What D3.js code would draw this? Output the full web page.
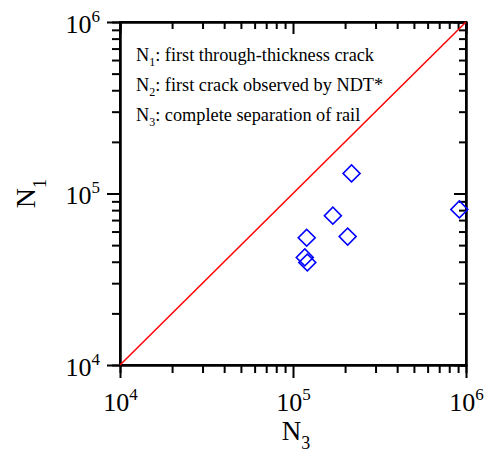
<!DOCTYPE html>
<html>
<head>
<meta charset="utf-8">
<script src="https://cdn.jsdelivr.net/npm/d3@7"></script>
<style>
  body { margin: 0; background: #fff; }
  svg text { font-family: "Liberation Serif", "Times New Roman", serif; fill: #000; }
  .axis path, .axis line { stroke: #000; stroke-width: 2; }
</style>
</head>
<body>
<svg id="chart" width="487" height="452"></svg>
<script>
// N3 (cycles to complete separation) vs N1 (first through-thickness crack)
const n3Values = [2.18e5, 1.70e5, 2.07e5, 1.20e5, 1.17e5, 1.21e5, 9.15e5];
const n1Values = [1.31e5, 7.42e4, 5.61e4, 5.52e4, 4.24e4, 3.96e4, 8.07e4];
const majorTicks = [1e4, 1e5, 1e6];
const tickExponents = ["4", "5", "6"];
const legendLines = [
    { sub: "1", text: ": first through-thickness crack" },
    { sub: "2", text: ": first crack observed by NDT*" },
    { sub: "3", text: ": complete separation of rail" }
];

const svg = d3.select("#chart");
const margin = { top: 22, right: 21, bottom: 87, left: 120 };
const width = +svg.attr("width") - margin.left - margin.right;
const height = +svg.attr("height") - margin.top - margin.bottom;

const x = d3.scaleLog().domain([1e4, 1e6]).range([0, width]);
const y = d3.scaleLog().domain([1e4, 1e6]).range([height, 0]);

const minorTicks = [];
[1e4, 1e5].forEach(d => { for (let k = 2; k <= 9; k++) minorTicks.push(d * k); });

const g = svg.append("g")
    .attr("transform", `translate(${margin.left},${margin.top})`);

// minor ticks
g.append("g").attr("class", "axis")
    .attr("transform", `translate(0,${height})`)
    .call(d3.axisBottom(x).tickValues(minorTicks).tickSize(8).tickFormat(""));
g.append("g").attr("class", "axis")
    .call(d3.axisLeft(y).tickValues(minorTicks).tickSize(8).tickFormat(""));
g.append("g").attr("class", "axis")
    .call(d3.axisBottom(x).tickValues(minorTicks).tickSize(7).tickFormat(""));
g.append("g").attr("class", "axis")
    .attr("transform", `translate(${width},0)`)
    .call(d3.axisLeft(y).tickValues(minorTicks).tickSize(7).tickFormat(""));

// major ticks
const xAxis = g.append("g").attr("class", "axis")
    .attr("transform", `translate(0,${height})`)
    .call(d3.axisBottom(x).tickValues(majorTicks).tickSize(13).tickSizeOuter(0).tickFormat(""));
const yAxis = g.append("g").attr("class", "axis")
    .call(d3.axisLeft(y).tickValues(majorTicks).tickSize(13).tickSizeOuter(0).tickFormat(""));
g.append("g").attr("class", "axis")
    .call(d3.axisBottom(x).tickValues(majorTicks).tickSize(12).tickSizeOuter(0).tickFormat(""));
g.append("g").attr("class", "axis")
    .attr("transform", `translate(${width},0)`)
    .call(d3.axisLeft(y).tickValues(majorTicks).tickSize(12).tickSizeOuter(0).tickFormat(""));

// tick labels 10^n
xAxis.selectAll(".tick").each(function(d, i) {
    const t = d3.select(this).append("text")
        .attr("y", 46)
        .attr("text-anchor", "middle")
        .style("font-size", "26px");
    t.append("tspan").text("10");
    t.append("tspan").attr("dy", -11).style("font-size", "17px").text(tickExponents[i]);
});
yAxis.selectAll(".tick").each(function(d, i) {
    const t = d3.select(this).append("text")
        .attr("x", -20)
        .attr("y", 10)
        .attr("text-anchor", "end")
        .style("font-size", "26px");
    t.append("tspan").text("10");
    t.append("tspan").attr("dy", -11).style("font-size", "17px").text(tickExponents[i]);
});

// frame
g.append("rect")
    .attr("width", width)
    .attr("height", height)
    .attr("fill", "none")
    .attr("stroke", "#000")
    .attr("stroke-width", 2);

// 1:1 line
g.append("line")
    .attr("x1", x(1e4)).attr("y1", y(1e4))
    .attr("x2", x(1e6)).attr("y2", y(1e6))
    .attr("stroke", "#ff0000")
    .attr("stroke-width", 1.5);

// data points
const points = n3Values.map((v, i) => ({ n3: v, n1: n1Values[i] }));
g.selectAll(".pt")
    .data(points)
    .enter().append("path")
    .attr("class", "pt")
    .attr("transform", d => `translate(${x(d.n3)},${y(d.n1)}) rotate(45)`)
    .attr("d", "M-6,-6H6V6H-6Z")
    .attr("fill", "none")
    .attr("stroke", "#0000ff")
    .attr("stroke-width", 1.6);

// legend text
legendLines.forEach((l, i) => {
    const t = g.append("text")
        .attr("x", 16)
        .attr("y", 39 + i * 30)
        .style("font-size", "18.3px");
    t.append("tspan").text("N");
    t.append("tspan").attr("dy", 5).style("font-size", "12px").text(l.sub);
    t.append("tspan").attr("dy", -5).text(l.text);
});

// axis titles
const xt = svg.append("text")
    .attr("x", margin.left + width / 2 + 3)
    .attr("y", 440)
    .attr("text-anchor", "middle")
    .style("font-size", "27px");
xt.append("tspan").text("N");
xt.append("tspan").attr("dy", 9).style("font-size", "18px").text("3");

const yt = svg.append("text")
    .attr("transform", `translate(35,${margin.top + height / 2}) rotate(-90)`)
    .attr("text-anchor", "middle")
    .style("font-size", "28px");
yt.append("tspan").text("N");
yt.append("tspan").attr("dy", 11).style("font-size", "19px").text("1");
</script>
</body>
</html>
